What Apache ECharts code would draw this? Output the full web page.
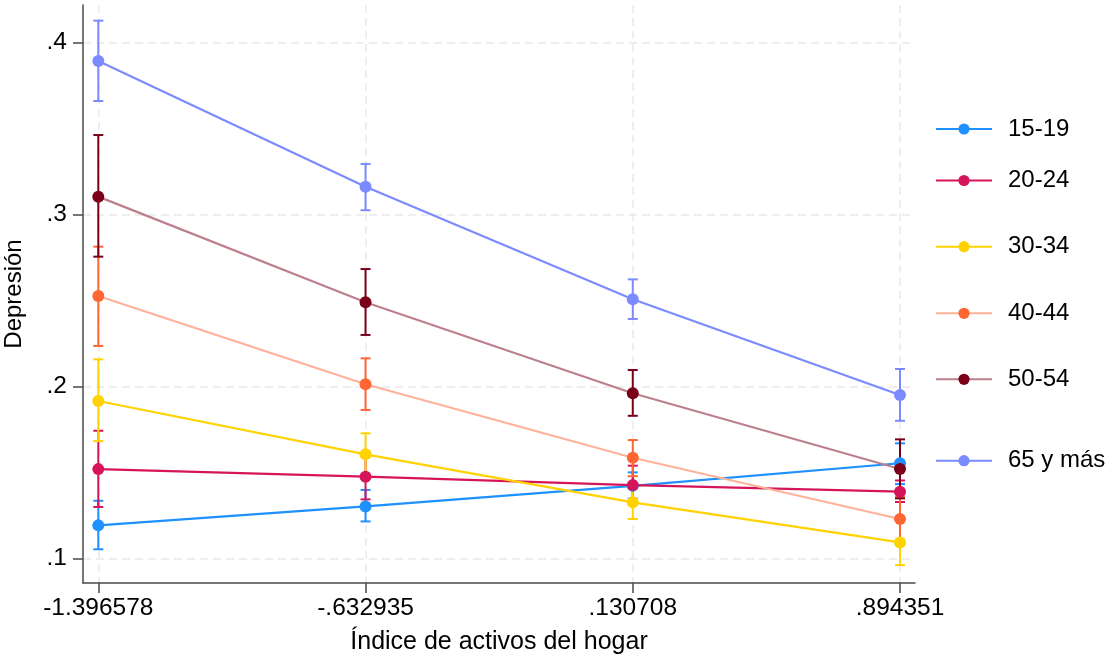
<!DOCTYPE html>
<html>
<head>
<meta charset="utf-8">
<script src="https://cdn.jsdelivr.net/npm/echarts@6/dist/echarts.min.js"></script>
<style>
html,body{margin:0;padding:0;background:#fff;}
#chart{width:1105px;height:655px;}
</style>
</head>
<body>
<div id="chart"></div>
<script>
// ---- data ----
const xValues = [-1.396578, -0.632935, 0.130708, 0.894351];
const xTickLabels = ['-1.396578', '-.632935', '.130708', '.894351'];
const yTickValues = [0.1, 0.2, 0.3, 0.4];
const yTickLabels = ['.1', '.2', '.3', '.4'];
const groups = ['15-19', '20-24', '30-34', '40-44', '50-54', '65 y más'];

const est_15_19 = [0.1194, 0.1304, 0.1424, 0.1555];
const lo_15_19  = [0.1055, 0.1217, 0.1350, 0.1434];
const hi_15_19  = [0.1337, 0.1400, 0.1502, 0.1671];

const est_20_24 = [0.1521, 0.1477, 0.1428, 0.1390];
const lo_20_24  = [0.1301, 0.1345, 0.1320, 0.1330];
const hi_20_24  = [0.1744, 0.1610, 0.1541, 0.1455];

const est_30_34 = [0.1917, 0.1607, 0.1328, 0.1095];
const lo_30_34  = [0.1684, 0.1485, 0.1231, 0.0963];
const hi_30_34  = [0.2159, 0.1729, 0.1426, 0.1227];

const est_40_44 = [0.2527, 0.2014, 0.1587, 0.1231];
const lo_40_44  = [0.2237, 0.1865, 0.1480, 0.1100];
const hi_40_44  = [0.2814, 0.2165, 0.1690, 0.1360];

const est_50_54 = [0.3105, 0.2491, 0.1962, 0.1522];
const lo_50_54  = [0.2756, 0.2301, 0.1831, 0.1351];
const hi_50_54  = [0.3463, 0.2684, 0.2097, 0.1694];

const est_65 = [0.3894, 0.3163, 0.2508, 0.1952];
const lo_65  = [0.3661, 0.3026, 0.2394, 0.1802];
const hi_65  = [0.4128, 0.3295, 0.2624, 0.2103];

const estAll = [est_15_19, est_20_24, est_30_34, est_40_44, est_50_54, est_65];
const loAll  = [lo_15_19, lo_20_24, lo_30_34, lo_40_44, lo_50_54, lo_65];
const hiAll  = [hi_15_19, hi_20_24, hi_30_34, hi_40_44, hi_50_54, hi_65];

// ---- styles ----
const markerColors = ['#1e90ff', '#d6145a', '#ffd200', '#ff6633', '#7a0019', '#7b8bff'];
const lineColors   = ['#1e90ff', '#d6145a', '#ffd200', '#ffb299', '#bc808c', '#7b8bff'];
const legendCenters = [129, 180.5, 246.7, 313.3, 379.3, 460.7];
const FONT = 'Liberation Sans, Arial, Helvetica, sans-serif';

const chart = echarts.init(document.getElementById('chart'), null, {renderer: 'canvas'});

const series = [];
groups.forEach((g, i) => {
  const ciData = xValues.map((x, k) => [x, loAll[i][k], hiAll[i][k]]);
  series.push({
    type: 'custom',
    name: g + ' CI',
    z: 2,
    silent: true,
    data: ciData,
    encode: {x: 0, y: [1, 2]},
    renderItem: function (params, api) {
      const x = api.value(0);
      const p1 = api.coord([x, api.value(1)]);
      const p2 = api.coord([x, api.value(2)]);
      const hw = 5;
      const st = {stroke: markerColors[i], lineWidth: 2};
      return {
        type: 'group',
        children: [
          {type: 'line', shape: {x1: p1[0], y1: p1[1], x2: p2[0], y2: p2[1]}, style: st},
          {type: 'line', shape: {x1: p1[0] - hw, y1: p1[1], x2: p1[0] + hw, y2: p1[1]}, style: st},
          {type: 'line', shape: {x1: p2[0] - hw, y1: p2[1], x2: p2[0] + hw, y2: p2[1]}, style: st}
        ]
      };
    }
  });
});
groups.forEach((g, i) => {
  series.push({
    type: 'line',
    name: g,
    z: 3,
    data: xValues.map((x, k) => [x, estAll[i][k]]),
    symbol: 'circle',
    symbolSize: 12,
    showSymbol: true,
    itemStyle: {color: markerColors[i]},
    lineStyle: {color: lineColors[i], width: 2.2},
    emphasis: {disabled: true},
    animation: false
  });
});

const legends = groups.map((g, i) => ({
  data: [g],
  orient: 'vertical',
  left: 935,
  top: legendCenters[i] - 12,
  padding: 0,
  itemWidth: 56,
  itemHeight: 14,
  selectedMode: false,
  textStyle: {fontFamily: FONT, fontSize: 24, color: '#000', lineHeight: 24, padding: [0, 0, 0, 11]}
}));

const axisLineStyle = {color: '#4a4a4a', width: 1.5};
const gridLineStyle = {color: '#e9e9e9', width: 1.5, type: [8, 5]};

chart.setOption({
  animation: false,
  backgroundColor: '#fff',
  grid: {left: 83, right: 190, top: 5, bottom: 72, containLabel: false, outerBoundsMode: 'none'},
  legend: legends,
  xAxis: {
    type: 'value',
    min: -1.4403,
    max: 0.9372,
    name: 'Índice de activos del hogar',
    nameLocation: 'middle',
    nameGap: 47,
    nameTextStyle: {fontFamily: FONT, fontSize: 25, color: '#000'},
    axisLine: {show: true, onZero: false, lineStyle: axisLineStyle},
    axisTick: {show: true, length: 10, lineStyle: axisLineStyle, customValues: xValues},
    axisLabel: {
      margin: 13,
      fontFamily: FONT, fontSize: 24.5, color: '#000',
      customValues: xValues,
      formatter: function (v) {
        const idx = xValues.findIndex(x => Math.abs(x - v) < 1e-6);
        return idx >= 0 ? xTickLabels[idx] : '';
      }
    },
    splitLine: {show: true, lineStyle: gridLineStyle}
  },
  yAxis: {
    type: 'value',
    min: 0.0859,
    max: 0.4219,
    name: 'Depresión',
    nameLocation: 'middle',
    nameGap: 57,
    nameRotate: 90,
    nameTextStyle: {fontFamily: FONT, fontSize: 24, color: '#000'},
    axisLine: {show: true, onZero: false, lineStyle: axisLineStyle},
    axisTick: {show: true, length: 10, lineStyle: axisLineStyle, customValues: yTickValues},
    axisLabel: {
      margin: 16,
      fontFamily: FONT, fontSize: 24.5, color: '#000',
      customValues: yTickValues,
      formatter: function (v) {
        const idx = yTickValues.findIndex(t => Math.abs(t - v) < 1e-6);
        return idx >= 0 ? yTickLabels[idx] : '';
      }
    },
    splitLine: {show: true, lineStyle: gridLineStyle}
  },
  series: series
});
</script>
</body>
</html>
